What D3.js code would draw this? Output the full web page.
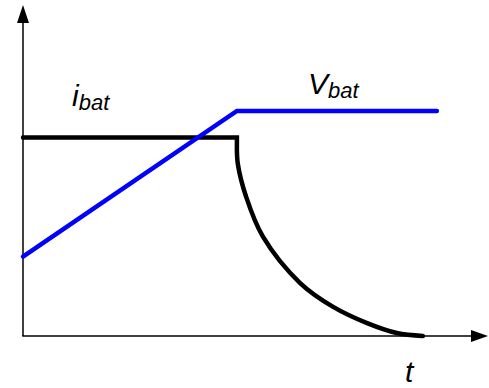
<!DOCTYPE html>
<html>
<head>
<meta charset="utf-8">
<script src="https://cdn.jsdelivr.net/npm/d3@7"></script>
<style>
  body { margin: 0; background: #fff; }
  text { font-family: "Liberation Sans", Arial, sans-serif; font-style: italic; }
</style>
</head>
<body>
<div id="chart-area"></div>
<script>
// Dimensions
const W = 489, H = 388;
const origin = { x: 23, y: 336 };

// Data (time 0..100, level 0..100)
const currentT = [0, 46, 46, 46.2, 48, 51.6, 59.6, 66.7, 74, 80.4, 86];
const currentY = [60, 60, 58, 52, 42, 30, 16, 8.8, 3.9, 0.9, 0];
const voltageT = [0, 46, 89];
const voltageY = [24, 68, 68];
const labels = ["i", "V", "t"];
const subs = ["bat", "bat", ""];

// Scales
const x = d3.scaleLinear().domain([0, 100]).range([origin.x, 488]);
const y = d3.scaleLinear().domain([0, 100]).range([origin.y, 5]);

const svg = d3.select("#chart-area")
  .append("svg")
    .attr("width", W)
    .attr("height", H);

// Axes
svg.append("line")
  .attr("x1", origin.x).attr("y1", origin.y)
  .attr("x2", origin.x).attr("y2", 20)
  .attr("stroke", "#000").attr("stroke-width", 1.5);
svg.append("line")
  .attr("x1", origin.x - 0.75).attr("y1", origin.y)
  .attr("x2", 474).attr("y2", origin.y)
  .attr("stroke", "#000").attr("stroke-width", 1.5);

// Arrow heads
svg.append("path")
  .attr("d", `M${origin.x},5 L${origin.x + 6},23 L${origin.x - 6},23 Z`)
  .attr("fill", "#000");
svg.append("path")
  .attr("d", `M488,${origin.y} L471,${origin.y - 6} L471,${origin.y + 6} Z`)
  .attr("fill", "#000");

// Lines
const line = d3.line().x(d => x(d[0])).y(d => y(d[1]));
const curved = d3.line().x(d => x(d[0])).y(d => y(d[1])).curve(d3.curveCatmullRom.alpha(0.5));

const cur = currentT.map((t, i) => [t, currentY[i]]);
const flatPart = line(cur.slice(0, 2));
const decayPart = curved(cur.slice(2)).replace(/^M/, "L");

svg.append("path")
  .attr("d", flatPart + decayPart)
  .attr("fill", "none")
  .attr("stroke", "#000")
  .attr("stroke-width", 4.5)
  .attr("stroke-linejoin", "miter")
  .attr("stroke-linecap", "round");

svg.append("path")
  .attr("d", line(voltageT.map((t, i) => [t, voltageY[i]])))
  .attr("fill", "none")
  .attr("stroke", "#0000ff")
  .attr("stroke-width", 4.5)
  .attr("stroke-linejoin", "miter")
  .attr("stroke-linecap", "round");

// Labels
const labelPos = [[72, 106], [308, 94], [405, 382]];
labels.forEach((l, i) => {
  const t = svg.append("text")
    .attr("x", labelPos[i][0])
    .attr("y", labelPos[i][1])
    .attr("font-size", "30px")
    .attr("fill", "#000")
    .text(l);
  if (subs[i]) {
    t.append("tspan")
      .attr("dy", 4)
      .attr("font-size", "22px")
      .text(subs[i]);
  }
});
</script>
</body>
</html>
